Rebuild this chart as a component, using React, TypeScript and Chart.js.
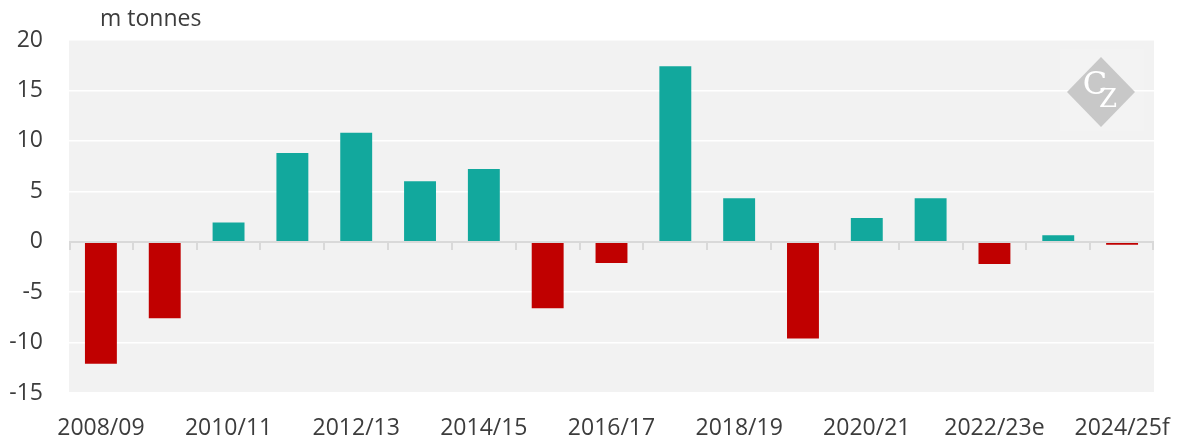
import React, { useEffect, useRef } from "react";
import { Chart, registerables } from "chart.js";

Chart.register(...registerables);

const categories = [
  "2008/09", "2009/10", "2010/11", "2011/12", "2012/13", "2013/14", "2014/15",
  "2015/16", "2016/17", "2017/18", "2018/19", "2019/20", "2020/21", "2021/22",
  "2022/23e", "2023/24", "2024/25f",
];
const values = [
  -12.1, -7.6, 1.9, 8.8, 10.8, 6.0, 7.2, -6.6, -2.1, 17.4, 4.3, -9.6, 2.35, 4.3,
  -2.2, 0.65, -0.3,
];
const yTicks = [-15, -10, -5, 0, 5, 10, 15, 20];
const unitLabel = "m tonnes";

const POS = "#12a89d";
const NEG = "#c00000";
const FONT = "'Open Sans', 'Noto Sans', sans-serif";
const TEXT = "#3c3c3c";
const FS = 23;

const bgPlugin = {
  id: "bgPlugin",
  beforeDraw(chart: any) {
    const { ctx, chartArea: a } = chart;
    ctx.save();
    ctx.fillStyle = "#f2f2f2";
    ctx.fillRect(a.left, a.top, a.right - a.left, a.bottom - a.top);
    ctx.restore();
  },
  beforeDatasetsDraw(chart: any) {
    const { ctx, chartArea: a } = chart;
    const cx = a.right - 53;
    const cy = a.top + 52;
    ctx.save();
    ctx.fillStyle = "rgba(255,255,255,0.1)";
    ctx.fillRect(cx - 41, cy - 43, 84, 82);
    ctx.fillStyle = "#c8c8c8";
    ctx.beginPath();
    ctx.moveTo(cx, cy - 35);
    ctx.lineTo(cx + 34, cy);
    ctx.lineTo(cx, cy + 35);
    ctx.lineTo(cx - 34, cy);
    ctx.closePath();
    ctx.fill();
    ctx.fillStyle = "#ffffff";
    ctx.textAlign = "center";
    ctx.textBaseline = "middle";
    ctx.font = "32px 'DejaVu Serif', 'Liberation Serif', serif";
    ctx.fillText("C", cx - 6, cy - 6);
    ctx.font = "26px 'DejaVu Serif', 'Liberation Serif', serif";
    ctx.fillText("Z", cx + 7, cy + 8);
    ctx.restore();
  },
  afterDatasetsDraw(chart: any) {
    const { ctx, chartArea: a, scales } = chart;
    const y0 = Math.round(scales.y.getPixelForValue(0));
    const xs = scales.x;
    ctx.save();
    ctx.strokeStyle = "#d9d9d9";
    ctx.lineWidth = 2;
    ctx.beginPath();
    ctx.moveTo(a.left, y0);
    ctx.lineTo(a.right, y0);
    ctx.stroke();
    ctx.beginPath();
    const n = categories.length;
    for (let i = 0; i <= n; i++) {
      let x: number;
      if (i === 0) x = a.left + 1;
      else if (i === n) x = a.right - 1;
      else x = (xs.getPixelForValue(i - 1) + xs.getPixelForValue(i)) / 2;
      x = Math.round(x);
      ctx.moveTo(x, y0);
      ctx.lineTo(x, y0 + 8);
    }
    ctx.stroke();
    ctx.restore();
  },
};

export default function App() {
  const ref = useRef<HTMLCanvasElement | null>(null);
  useEffect(() => {
    document.body.style.margin = "0";
    const chart = new Chart(ref.current as HTMLCanvasElement, {
      type: "bar",
      data: {
        labels: categories,
        datasets: [
          {
            data: values,
            backgroundColor: values.map((v) => (v < 0 ? NEG : POS)),
            borderWidth: 0,
            barPercentage: 0.5,
            categoryPercentage: 1,
          },
        ],
      },
      options: {
        animation: false,
        responsive: false,
        maintainAspectRatio: false,
        layout: { padding: { top: 40, left: 10, right: 30, bottom: 0 } },
        plugins: { legend: { display: false }, tooltip: { enabled: false }, title: { display: false } },
        scales: {
          x: {
            grid: { display: false, drawTicks: false },
            border: { display: false },
            afterFit: (s: any) => {
              s.height = 48;
              s.paddingLeft = 0;
              s.paddingRight = 0;
            },
            ticks: {
              autoSkip: false,
              maxRotation: 0,
              padding: 22,
              color: TEXT,
              font: { family: FONT, size: FS },
              callback: (_v: any, i: number) => (i % 2 === 0 ? categories[i] : ""),
            },
          },
          y: {
            min: -15,
            max: 20,
            afterBuildTicks: (s: any) => {
              s.ticks = yTicks.map((v) => ({ value: v }));
            },
            afterFit: (s: any) => {
              s.width = 59;
            },
            grid: {
              drawTicks: false,
              color: (c: any) => (c.tick && c.tick.value === 0 ? "rgba(0,0,0,0)" : "#ffffff"),
              lineWidth: 1.5,
            },
            border: { display: false },
            ticks: {
              padding: 26,
              color: TEXT,
              font: { family: FONT, size: FS },
            },
          },
        },
      },
      plugins: [bgPlugin],
    });
    return () => chart.destroy();
  }, []);
  return (
    <div style={{ position: "relative", width: 1184, height: 441, fontFamily: FONT }}>
      <div
        style={{
          position: "absolute",
          left: 100,
          top: 2,
          fontSize: FS,
          lineHeight: "30px",
          color: TEXT,
        }}
      >
        {unitLabel}
      </div>
      <canvas ref={ref} width={1184} height={441} style={{ display: "block" }} />
    </div>
  );
}
